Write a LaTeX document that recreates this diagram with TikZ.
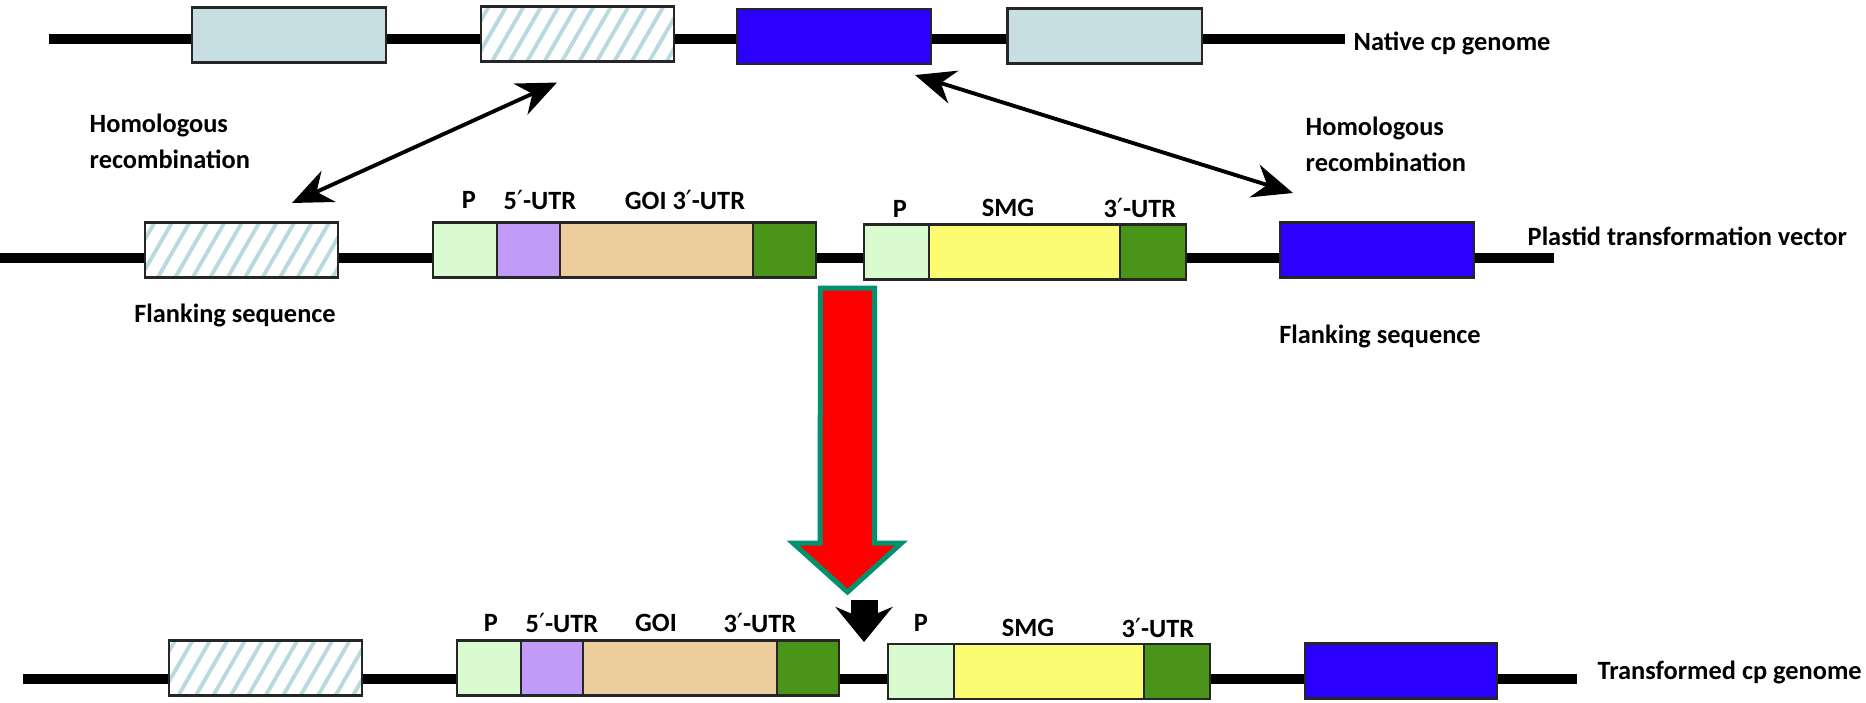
\documentclass[tikz,border=0pt]{standalone}
\usepackage{fontspec}
\setmainfont{Carlito}
\newfontfamily\primefont{DejaVu Sans}
\newcommand{\prm}{{\primefont\mdseries ′}}
\usetikzlibrary{positioning, arrows.meta, calc, patterns.meta}

\definecolor{natgray}{RGB}{199,223,227}
\definecolor{hatch}{RGB}{184,218,222}
\definecolor{markblue}{RGB}{43,0,255}
\definecolor{promgreen}{RGB}{218,251,208}
\definecolor{utrpurple}{RGB}{192,156,248}
\definecolor{goitan}{RGB}{237,205,157}
\definecolor{utrgreen}{RGB}{74,148,25}
\definecolor{smgyellow}{RGB}{251,252,114}
\definecolor{arrowteal}{RGB}{0,145,110}

\begin{document}
\begin{tikzpicture}[
    x=0.01cm, y=-0.01cm,
    font=\bfseries\fontsize{7.5}{10.2}\selectfont,
    seg/.style={draw=black!85, line width=0.6pt, minimum height=0.55cm, inner sep=0pt, outer sep=0pt},
    native/.style={seg, fill=natgray, minimum width=1.94cm},
    flank/.style={seg, preaction={fill=white}, pattern={Lines[angle=60, distance=4.3pt, line width=1.1pt]}, pattern color=hatch, minimum width=1.93cm},
    marker/.style={seg, fill=markblue, minimum width=1.94cm},
    prom/.style={seg, fill=promgreen},
    utrfive/.style={seg, fill=utrpurple},
    goi/.style={seg, fill=goitan},
    utrthree/.style={seg, fill=utrgreen},
    smg/.style={seg, fill=smgyellow},
    dna/.style={line width=0.1cm},
    lbl/.style={inner sep=0pt},
    hr/.style={{Stealth[length=4mm, width=3.4mm]}-{Stealth[length=4mm, width=3.4mm]}, line width=1.1pt},
    bigarrow/.style={fill=red, draw=arrowteal, line width=0.05cm, line join=miter},
    insarrow/.style={-{Stealth[length=3.5mm, width=5.7mm, inset=1.2mm]}, line width=2.7mm},
]
\useasboundingbox (0,0) rectangle (1866,702);

% --- NATIVE cp GENOME (top) ---
\node[lbl, anchor=west] (natLbl) at (1353,43) {Native cp genome};
\coordinate (natStart) at (49,39);
\draw[dna] (natStart) -- ([xshift=-0.08cm]natLbl.west |- natStart);
\node[native] (nat1) at (289,35) {};
\node[flank]  (nat2) at (577.5,34) {};
\node[marker] (nat3) at (834,36.5) {};
\node[native] (nat4) at (1104.5,36) {};

% --- HOMOLOGOUS RECOMBINATION ---
\node[lbl, anchor=west, align=left] (hrL) at (89,141) {Homologous\\recombination};
\node[lbl, anchor=west, align=left] (hrR) at (1305,144) {Homologous\\recombination};

% --- PLASTID TRANSFORMATION VECTOR (middle) ---
\coordinate (vecStart) at (0,258);
\coordinate (vecEnd) at (1554,258);
\draw[dna] (vecStart) -- (vecEnd);
\node[flank] (vecFl1) at (241.5,250) {};
\node[prom, minimum width=0.64cm] (vecP1) at (465,250) {};
\node[utrfive, minimum width=0.63cm, right=0pt of vecP1] (vecU5) {};
\node[goi, minimum width=1.93cm, right=0pt of vecU5] (vecGoi) {};
\node[utrthree, minimum width=0.63cm, right=0pt of vecGoi] (vecU3a) {};
\node[prom, minimum width=0.65cm] (vecP2) at (896.5,252) {};
\node[smg, minimum width=1.91cm, right=0pt of vecP2] (vecSmg) {};
\node[utrthree, minimum width=0.66cm, right=0pt of vecSmg] (vecU3b) {};
\node[marker] (vecFl2) at (1377,250) {};
\node[lbl, anchor=west] (vecLbl) at (1527,236) {Plastid transformation vector};

\node[lbl] (vecLP1) at (469,200) {P};
\node[lbl] (vecLU5) at (540,200) {5\prm-UTR};
\node[lbl] (vecLGoi) at (685,200) {GOI 3\prm-UTR};
\node[lbl] (vecLP2) at (900,209) {P};
\node[lbl] (vecLSmg) at (1008,208) {SMG};
\node[lbl] (vecLU3) at (1140,208) {3\prm-UTR};

\node[lbl] (flkL) at (235,315) {Flanking sequence};
\node[lbl] (flkR) at (1380,336) {Flanking sequence};

% Arrows between the native genome and the flanks
\draw[hr] ([xshift=-0.205cm, yshift=-0.21cm]nat2.south) -- ([xshift=0.505cm, yshift=0.195cm]vecFl1.north);
\draw[hr] ([xshift=0.81cm, yshift=-0.11cm]nat3.south) -- ([xshift=-0.84cm, yshift=0.295cm]vecFl2.north);

% --- TRANSFORMATION ARROW ---
\coordinate (rTop) at (847.5,288);
\coordinate (rTip) at (847.5,592);
\draw[bigarrow] ([xshift=-0.27cm]rTop) -- ([xshift=0.27cm]rTop) -- ++(0,255) -- ++(27,0)
    -- (rTip) -- ++(-54.5,-49) -- ++(27,0) -- cycle;

\coordinate (ins) at (864,642);
\draw[insarrow] ([yshift=0.42cm]ins) -- (ins);

% --- TRANSFORMED cp GENOME (bottom) ---
\node[lbl, anchor=west] (trLbl) at (1597,672) {Transformed cp genome};
\coordinate (trStart) at (23,679);
\draw[dna] (trStart) -- ([xshift=-0.2cm]trLbl.west |- trStart);
\node[flank] (trFl1) at (265.5,668) {};
\node[prom, minimum width=0.64cm] (trP1) at (489,668) {};
\node[utrfive, minimum width=0.62cm, right=0pt of trP1] (trU5) {};
\node[goi, minimum width=1.94cm, right=0pt of trU5] (trGoi) {};
\node[utrthree, minimum width=0.62cm, right=0pt of trGoi] (trU3a) {};
\node[prom, minimum width=0.66cm] (trP2) at (921,671.5) {};
\node[smg, minimum width=1.90cm, right=0pt of trP2] (trSmg) {};
\node[utrthree, minimum width=0.66cm, right=0pt of trSmg] (trU3b) {};
\node[marker, minimum width=1.92cm] (trFl2) at (1401,671) {};

\node[lbl] (trLP1) at (491,623) {P};
\node[lbl] (trLU5) at (562,623) {5\prm-UTR};
\node[lbl] (trLGoi) at (656,623) {GOI};
\node[lbl] (trLU3a) at (760,623) {3\prm-UTR};
\node[lbl] (trLP2) at (921,623) {P};
\node[lbl] (trLSmg) at (1028,628) {SMG};
\node[lbl] (trLU3b) at (1158,628) {3\prm-UTR};

\end{tikzpicture}
\end{document}
